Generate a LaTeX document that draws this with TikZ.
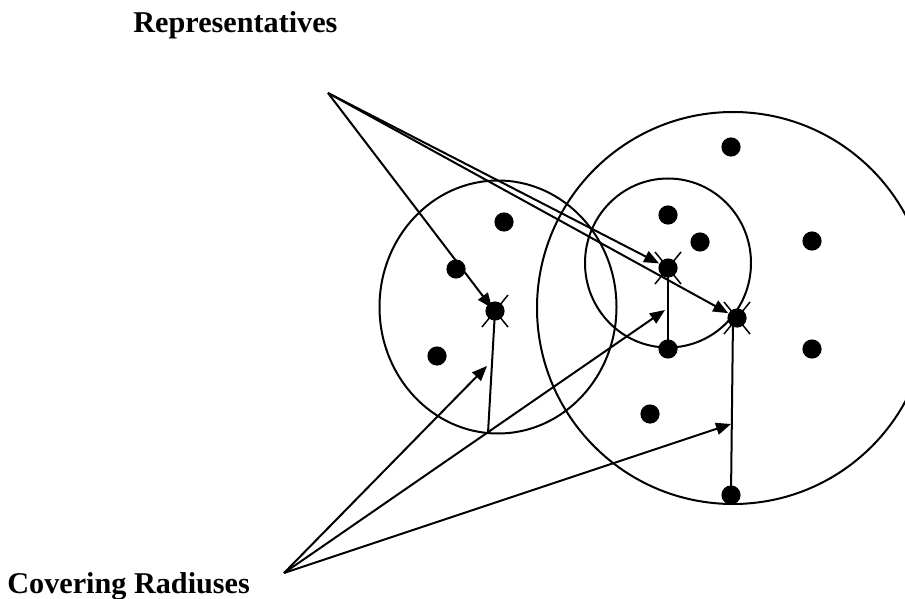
\documentclass[tikz,border=0pt]{standalone}
\usepackage{fontspec}
\setmainfont{Liberation Serif}
\usetikzlibrary{arrows.meta}
\begin{document}
\begin{tikzpicture}[x=0.5pt,y=-0.5pt,
  dot/.style={circle,fill=black,inner sep=0pt,minimum size=9.6pt},
  ring/.style={line width=1pt},
  conn/.style={line width=1pt},
  arr/.style={conn,-{Triangle[length=7.5pt,width=6pt]}},
  xmark/.style={line width=0.75pt},
  lbl/.style={inner sep=0pt,anchor=base west,font=\fontsize{15.1}{18}\selectfont\bfseries}]
\useasboundingbox (0,0) rectangle (905,599);
% circles
\draw[ring] (498,307) ellipse [x radius=59.25pt, y radius=63.25pt];
\draw[ring] (733,308) circle [radius=98pt];
\draw[ring] (668,263) ellipse [x radius=41.5pt, y radius=42.25pt];
% labels
\node[lbl] (rep) at (133,33) {Representatives};
\node[lbl] (cov) at (7,593) {Covering Radiuses};
% apexes
\coordinate (top) at (328,93);
\coordinate (bot) at (284,573);
% dots
\node[dot] (d1) at (504,222) {};
\node[dot] (d2) at (456,269) {};
\node[dot] (rL) at (495,311) {};
\node[dot] (d4) at (437,356) {};
\node[dot] (d5) at (731,147) {};
\node[dot] (d6) at (668,215) {};
\node[dot] (d7) at (700,242) {};
\node[dot] (d8) at (812,241) {};
\node[dot] (rS) at (668,268) {};
\node[dot] (bS) at (668,349) {};
\node[dot] (rB) at (737,318) {};
\node[dot] (d12) at (812,349) {};
\node[dot] (d13) at (650,414) {};
\node[dot] (bB) at (731,495) {};
% X marks on representatives
\foreach \r in {rL,rS,rB}{
  \draw[xmark] ([shift={(-13,-16)}]\r.center) -- ([shift={(13,16)}]\r.center);
  \draw[xmark] ([shift={(13,-16)}]\r.center) -- ([shift={(-13,16)}]\r.center);
}
% radius lines
\coordinate (bL) at (488,433);
\draw[conn] (rL.center) -- (bL);
\draw[conn] (rS.center) -- (bS.center);
\draw[conn] ([xshift=-2pt]rB.center) -- (bB.center);
% arrows to representatives
\draw[arr] (top) -- ([shift={(-3,-3)}]rL.center);
\draw[arr] (top) -- (rS);
\draw[arr] (top) -- (rB);
% arrows to radii
\coordinate (mL) at (487,366);
\coordinate (mS) at (665,310);
\coordinate (mB) at (731,424);
\draw[arr] (bot) -- (mL);
\draw[arr] (bot) -- (mS);
\draw[arr] (bot) -- (mB);
\end{tikzpicture}
\end{document}
